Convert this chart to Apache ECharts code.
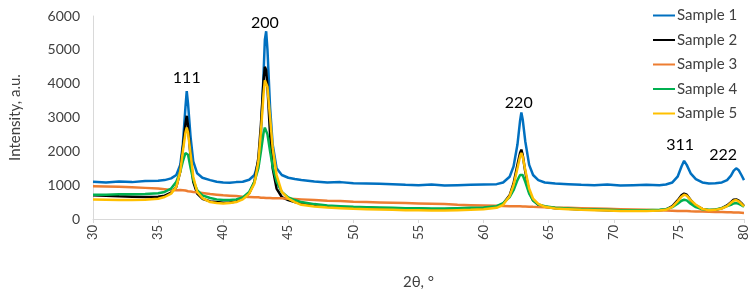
<!DOCTYPE html>
<html>
<head>
<meta charset="utf-8">
<script src="https://cdn.jsdelivr.net/npm/echarts@6/dist/echarts.min.js"></script>
<style>
  html, body { margin: 0; padding: 0; background: #fff; }
  #chart { width: 755px; height: 295px; }
</style>
</head>
<body>
<div id="chart"></div>
<script>
// 2θ positions (shared by all samples)
const twoTheta = [
  30, 31, 32, 33, 34, 35, 35.5, 36,
  36.4, 36.7, 36.9, 37.1, 37.2, 37.3, 37.5, 37.7, 38, 38.4,
  39, 39.5, 40, 40.5, 41, 41.5, 42,
  42.4, 42.7, 42.9, 43.1, 43.2, 43.3, 43.4, 43.6, 43.8, 44.1, 44.5, 45, 45.5,
  46, 47, 48, 49, 50, 51, 52, 53, 54, 55, 56, 57, 58, 59, 60, 61,
  61.5, 62, 62.3, 62.6, 62.8, 62.9, 63, 63.2, 63.5, 63.8, 64.2, 64.7,
  65.5, 66.5, 67.5, 68.5, 69.5, 70.5, 71.5, 72.5, 73.5, 74,
  74.5, 74.9, 75.2, 75.4, 75.6, 75.9, 76.3, 76.8,
  77.3, 77.8, 78.3, 78.7,
  79, 79.2, 79.4, 79.6, 79.8, 80
];

const sample1 = [
  1100, 1080, 1110, 1090, 1120, 1130, 1150, 1200,
  1300, 1600, 2200, 3300, 3780, 3400, 2400, 1700, 1350, 1220,
  1150, 1100, 1080, 1070, 1090, 1100, 1160,
  1300, 1700, 2500, 4300, 5300, 5550, 5000, 3300, 2200, 1500, 1300, 1220, 1180,
  1150, 1110, 1080, 1090, 1060, 1050, 1040, 1030, 1010, 1000, 1020, 990, 1000, 1010, 1020, 1030,
  1080, 1250, 1550, 2200, 2900, 3150, 2950, 2300, 1600, 1300, 1150, 1080,
  1050, 1030, 1010, 1000, 1020, 990, 1000, 1010, 1000, 1020,
  1080, 1250, 1550, 1720, 1600, 1350, 1180, 1080,
  1050, 1060, 1080, 1150,
  1280, 1420, 1500, 1440, 1300, 1150
];

const sample2 = [
  700, 690, 670, 660, 650, 660, 690, 780,
  950, 1400, 2100, 2800, 3050, 2750, 1800, 1100, 750, 600,
  520, 500, 480, 490, 520, 600, 760,
  1100, 1800, 2800, 4100, 4500, 4400, 3900, 2500, 1500, 900, 650, 560, 500,
  450, 400, 370, 350, 340, 330, 320, 310, 300, 300, 290, 290, 300, 310, 320, 360,
  450, 700, 1050, 1600, 1950, 2050, 1900, 1400, 800, 550, 420, 360,
  320, 300, 280, 270, 260, 250, 250, 250, 260, 280,
  380, 550, 700, 750, 720, 560, 400, 300,
  260, 270, 320, 400,
  500, 570, 580, 540, 470, 380
];

const sample3 = [
  970, 960, 950, 940, 920, 900, 880, 860,
  850, 860, 850, 840, 830, 820, 810, 800, 790, 770,
  740, 720, 700, 690, 680, 660, 650,
  640, 640, 630, 630, 630, 620, 620, 620, 610, 610, 610, 600, 590,
  580, 560, 540, 530, 510, 500, 490, 480, 470, 460, 450, 440, 420, 410, 400, 390,
  385, 380, 380, 375, 375, 370, 370, 370, 365, 360, 355, 350,
  340, 330, 320, 310, 300, 290, 280, 270, 260, 250,
  245, 240, 240, 235, 235, 230, 225, 220,
  215, 210, 205, 200,
  200, 195, 190, 190, 185, 180
];

const sample4 = [
  720, 720, 730, 730, 740, 760, 800, 900,
  1100, 1400, 1700, 1950, 2000, 1900, 1500, 1150, 850, 700,
  620, 580, 560, 560, 580, 640, 800,
  1100, 1500, 2000, 2550, 2700, 2650, 2500, 2000, 1550, 1100, 800, 640, 560,
  500, 440, 400, 380, 360, 350, 340, 330, 320, 320, 310, 310, 320, 330, 340, 380,
  470, 650, 850, 1150, 1300, 1350, 1300, 1100, 750, 550, 430, 380,
  330, 310, 290, 280, 270, 260, 260, 260, 270, 290,
  350, 450, 540, 570, 550, 450, 350, 290,
  270, 280, 320, 380,
  420, 460, 470, 450, 410, 360
];

const sample5 = [
  580, 570, 560, 560, 570, 600, 650, 750,
  950, 1400, 2000, 2550, 2700, 2550, 1900, 1250, 800, 620,
  500, 470, 460, 470, 500, 580, 750,
  1050, 1700, 2600, 3700, 4100, 4150, 3900, 3000, 2100, 1300, 800, 600, 500,
  420, 370, 340, 320, 300, 290, 280, 270, 260, 260, 250, 250, 260, 270, 290, 330,
  420, 680, 1000, 1500, 1850, 1950, 1850, 1450, 900, 600, 450, 360,
  310, 290, 270, 260, 250, 240, 240, 240, 250, 270,
  360, 520, 660, 720, 690, 560, 420, 300,
  260, 270, 310, 380,
  480, 540, 560, 520, 450, 370
];

const sampleNames = ['Sample 1', 'Sample 2', 'Sample 3', 'Sample 4', 'Sample 5'];
const sampleColors = ['#0070C0', '#000000', '#ED7D31', '#00B050', '#FFC000'];

// reflection labels
const peakLabels = ['111', '200', '220', '311', '222'];
const peakX = [37.2, 43.2, 62.7, 75.1, 78.4];
const peakY = [4170, 5800, 3440, 2190, 1900];

const FONT = 'Lato, "Liberation Sans", sans-serif';

const allData = [sample1, sample2, sample3, sample4, sample5];

const series = allData.map((vals, i) => ({
  name: sampleNames[i],
  type: 'line',
  symbol: 'none',
  data: vals.map((v, k) => [twoTheta[k], v]),
  lineStyle: { width: 2.5, color: sampleColors[i] },
  itemStyle: { color: sampleColors[i] }
}));

// hkl labels hung on the first series
series[0].markPoint = {
  symbol: 'circle',
  symbolSize: 0,
  label: {
    show: true,
    position: 'inside',
    color: '#000',
    fontSize: 16,
    fontFamily: FONT,
    formatter: p => p.name
  },
  data: peakLabels.map((t, i) => ({ name: t, coord: [peakX[i], peakY[i]] }))
};

const chart = echarts.init(document.getElementById('chart'));
chart.setOption({
  animation: false,
  textStyle: { fontFamily: FONT },
  grid: { left: 90, right: 11, top: 16, bottom: 73 },
  legend: {
    orient: 'vertical',
    left: 648,
    top: 3,
    icon: 'rect',
    itemWidth: 22,
    itemHeight: 2,
    itemGap: 9.5,
    textStyle: { fontSize: 15, color: '#404040', fontFamily: FONT, padding: [0, 0, 0, -3] },
    data: sampleNames
  },
  xAxis: {
    type: 'value',
    min: 30,
    max: 80,
    interval: 5,
    name: '2θ, °',
    nameLocation: 'middle',
    nameGap: 56,
    nameTextStyle: { fontSize: 15, color: '#404040', fontFamily: FONT },
    axisLine: { lineStyle: { color: '#d9d9d9', width: 1 } },
    axisTick: { show: true, length: 4, lineStyle: { color: '#d9d9d9' } },
    axisLabel: { rotate: 90, fontSize: 13, color: '#404040', margin: 6 },
    splitLine: { show: false }
  },
  yAxis: {
    type: 'value',
    min: 0,
    max: 6000,
    interval: 1000,
    name: 'Intensity, a.u.',
    nameLocation: 'middle',
    nameGap: 70,
    nameRotate: 90,
    nameTextStyle: { fontSize: 15, color: '#404040', fontFamily: FONT },
    axisLine: { show: true, lineStyle: { color: '#d9d9d9', width: 1 } },
    axisTick: { show: false },
    axisLabel: { fontSize: 14, color: '#404040', margin: 13, formatter: v => String(v) },
    splitLine: { show: false }
  },
  series: series
});
</script>
</body>
</html>
